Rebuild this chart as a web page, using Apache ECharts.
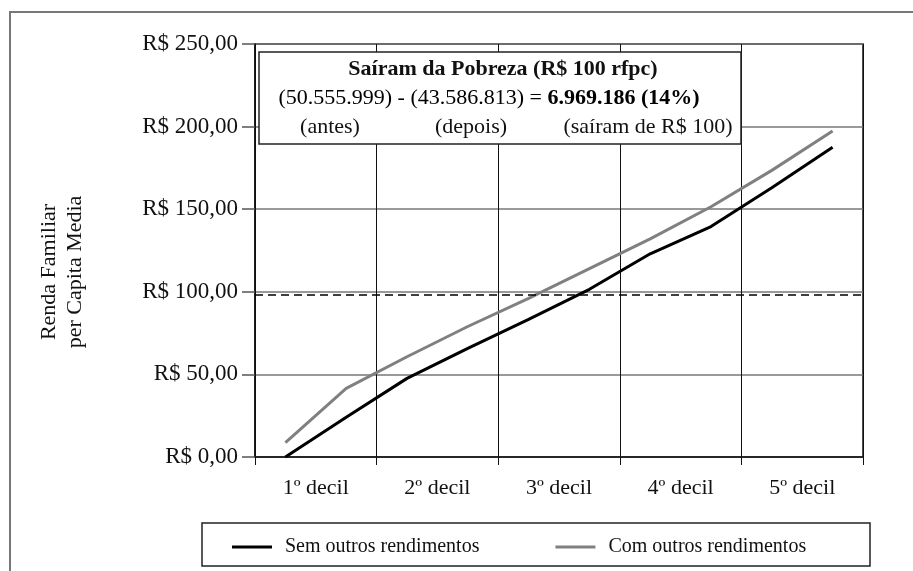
<!DOCTYPE html>
<html>
<head>
<meta charset="UTF-8">
<title></title>
<script src="https://cdn.jsdelivr.net/npm/echarts@6/dist/echarts.min.js"></script>
<style type="text/css">
	* {margin: 0; padding: 0;}
	body {background: #fff;}
</style>
</head>
<body>
<div id="chart" style="width:913px;height:571px"></div>
<script type="text/javascript">
// decis (eixo visivel) e meios-decis onde ficam os pontos
var decis = ['1º decil', '2º decil', '3º decil', '4º decil', '5º decil'];
var pontos = ['1a', '1b', '2a', '2b', '3a', '3b', '4a', '4b', '5a', '5b'];

var semOutros = [0, 24, 47.6, 65.8, 83.3, 101.5, 123, 139.5, 163, 187.5];
var comOutros = [8.7, 41.5, 60.7, 79, 96, 114, 132, 151.5, 173.5, 197.3];

var rotulosY = ['R$ 0,00', 'R$ 50,00', 'R$ 100,00', 'R$ 150,00', 'R$ 200,00', 'R$ 250,00'];
var linhaPobreza = 98;

var fonte = 'Liberation Serif';

var chart = echarts.init(document.getElementById('chart'));
var option = {
	animation: false,
	textStyle: {fontFamily: fonte, color: '#111'},
	grid: {
		left: 255, right: 50, top: 44, bottom: 114,
		show: true, borderColor: '#111', borderWidth: 1.5, containLabel: false
	},
	legend: {
		left: 227, top: 532,
		icon: 'rect',
		itemWidth: 40, itemHeight: 3, itemGap: 76,
		textStyle: {fontFamily: fonte, fontSize: 20, color: '#111', padding: [0, 0, 0, 8]},
		data: ['Sem outros rendimentos', 'Com outros rendimentos']
	},
	xAxis: [
		{
			type: 'category',
			data: decis,
			boundaryGap: true,
			axisLine: {lineStyle: {color: '#111', width: 1.5}},
			axisTick: {show: true, length: 8, lineStyle: {color: '#111'}},
			axisLabel: {fontFamily: fonte, fontSize: 22, color: '#111', margin: 20},
			splitLine: {show: true, lineStyle: {color: '#111', width: 1}}
		},
		{
			type: 'category',
			data: pontos,
			boundaryGap: true,
			show: false
		}
	],
	yAxis: {
		type: 'value',
		min: 0, max: 250, interval: 50,
		axisLine: {show: true, lineStyle: {color: '#111', width: 1.5}},
		axisTick: {show: true, length: 13, lineStyle: {color: '#555', width: 1.5}},
		axisLabel: {
			fontFamily: fonte, fontSize: 23, color: '#111', margin: 17,
			formatter: function (v) { return rotulosY[v / 50]; }
		},
		splitLine: {lineStyle: {color: '#777', width: 1.5}}
	},
	series: [
		{
			name: 'Sem outros rendimentos',
			type: 'line',
			xAxisIndex: 1,
			data: semOutros,
			symbol: 'none',
			lineStyle: {color: '#000', width: 3},
			itemStyle: {color: '#000'},
			markLine: {
				silent: true,
				symbol: 'none',
				label: {show: false},
				lineStyle: {color: '#000', width: 1.5, type: [8, 5]},
				data: [{yAxis: linhaPobreza}]
			}
		},
		{
			name: 'Com outros rendimentos',
			type: 'line',
			xAxisIndex: 1,
			data: comOutros,
			symbol: 'none',
			lineStyle: {color: '#808080', width: 3},
			itemStyle: {color: '#808080'}
		}
	],
	graphic: [
		// moldura externa
		{type: 'rect', shape: {x: 10, y: 12, width: 1000, height: 1000},
			style: {fill: 'none', stroke: '#777', lineWidth: 2}, silent: true},
		// caixa da legenda
		{type: 'rect', shape: {x: 202, y: 523, width: 668, height: 43},
			style: {fill: 'none', stroke: '#222', lineWidth: 1.5}, silent: true},
		// caixa do texto
		{type: 'rect', shape: {x: 259, y: 52, width: 482, height: 92}, z: 10,
			style: {fill: '#fff', stroke: '#222', lineWidth: 1.5}},
		{type: 'text', x: 503, y: 69, z: 11,
			style: {text: 'Saíram da Pobreza (R$ 100 rfpc)', font: 'bold 22px "Liberation Serif"',
				fill: '#111', textAlign: 'center', textVerticalAlign: 'middle'}},
		{type: 'text', x: 489, y: 98, z: 11,
			style: {
				text: '{n|(50.555.999) - (43.586.813) = }{b|6.969.186 (14%)}',
				textAlign: 'center', textVerticalAlign: 'middle',
				rich: {
					n: {fontFamily: fonte, fontSize: 22, color: '#111'},
					b: {fontFamily: fonte, fontSize: 22, fontWeight: 'bold', color: '#111'}
				}
			}},
		{type: 'text', x: 330, y: 127, z: 11,
			style: {text: '(antes)', font: '22px "Liberation Serif"', fill: '#111',
				textAlign: 'center', textVerticalAlign: 'middle'}},
		{type: 'text', x: 471, y: 127, z: 11,
			style: {text: '(depois)', font: '22px "Liberation Serif"', fill: '#111',
				textAlign: 'center', textVerticalAlign: 'middle'}},
		{type: 'text', x: 648, y: 127, z: 11,
			style: {text: '(saíram de R$ 100)', font: '22px "Liberation Serif"', fill: '#111',
				textAlign: 'center', textVerticalAlign: 'middle'}},
		// nome do eixo Y
		{type: 'text', x: 62, y: 272, rotation: Math.PI / 2,
			style: {text: 'Renda Familiar\nper Capita Media', font: '22px "Liberation Serif"',
				fill: '#111', textAlign: 'center', textVerticalAlign: 'middle', lineHeight: 26}}
	]
};
chart.setOption(option);
</script>
</body>
</html>
